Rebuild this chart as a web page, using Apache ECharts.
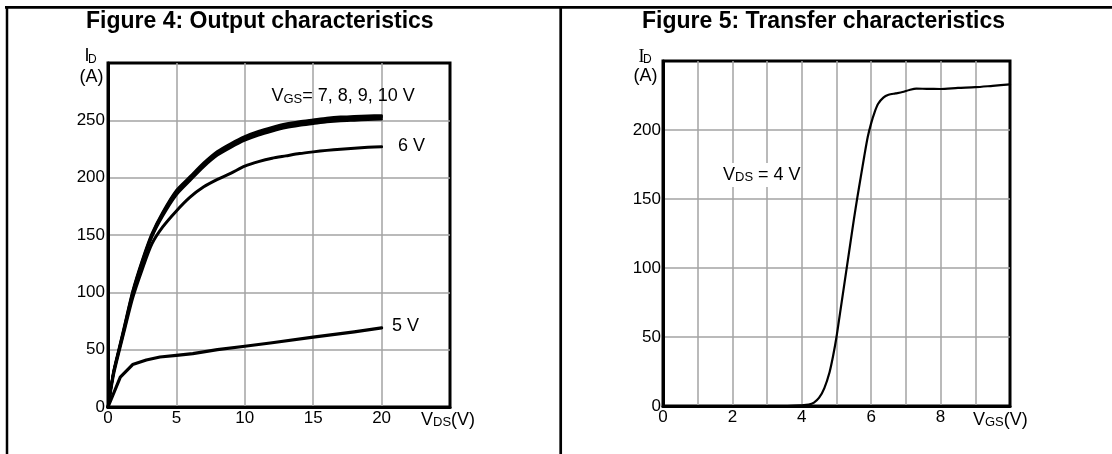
<!DOCTYPE html>
<html>
<head>
<meta charset="utf-8">
<script src="https://cdn.jsdelivr.net/npm/echarts@6/dist/echarts.min.js"></script>
<style>
html,body{margin:0;padding:0;background:#fff;}
#c{width:1112px;height:454px;}
</style>
</head>
<body>
<div id="c"></div>
<script>
// ---- Figure 4: Output characteristics (ID vs VDS) ----
const vdsOut = [0, 0.4, 0.8, 1.2, 1.8, 2.5, 3.2, 4, 5, 6, 7, 8, 9, 10, 11, 12, 13, 14, 15, 16, 17, 18, 19, 20];
const id10V = [0, 31, 51, 71, 101, 128, 151, 170, 189, 201, 213, 223, 230, 236, 240.5, 244, 247, 249, 250.5, 252, 253, 253.5, 254, 254.2];
const id9V  = [0, 30, 50, 70, 100, 127, 150, 169, 188, 200, 212, 222, 229, 235, 239.5, 243, 246, 248, 249.5, 251, 252, 252.5, 253, 253.3];
const id8V  = [0, 29.5, 49.5, 69, 99, 126, 149, 168, 187, 199, 211, 221, 228, 234, 238.5, 242, 245, 247, 248.5, 250, 251, 251.5, 252, 252.4];
const id7V  = [0, 29, 49, 68, 98, 125, 148, 166.5, 185, 197.5, 209.5, 219.5, 226.5, 232.5, 237, 240.5, 243.5, 245.5, 247, 248.5, 249.5, 250, 250.5, 251];
const id6V  = [0, 28, 48, 67, 95, 120, 142, 157, 171, 183, 192, 198.5, 204, 210, 214, 217, 219, 221, 222.5, 223.8, 224.8, 225.7, 226.5, 227];
const vds5V = [0, 0.9, 1.8, 2.8, 3.8, 5, 6.2, 8, 10, 12, 15, 18, 20];
const id5V  = [0, 26, 37, 41, 43.6, 45, 46.5, 50, 53, 56, 61, 65.5, 69];
const outXTicks = [0, 5, 10, 15, 20];
const outYTicks = [0, 50, 100, 150, 200, 250];

// ---- Figure 5: Transfer characteristics (ID vs VGS, VDS = 4 V) ----
const vgsT = [0, 1, 2, 3, 3.5, 4, 4.2, 4.35, 4.5, 4.65, 4.8, 4.9, 5.0, 5.1, 5.2, 5.3, 5.4, 5.5, 5.6, 5.7, 5.8, 5.9, 6.0, 6.1, 6.2, 6.35, 6.5, 6.7, 6.9, 7.1, 7.3, 7.6, 8, 8.5, 9, 9.5, 10];
const idT  = [0, 0, 0, 0, 0, 0.5, 1, 2.5, 6, 13, 24.5, 36, 50, 67, 84, 101, 118, 135, 151, 166, 181, 195, 205, 213, 219, 223.5, 225.5, 226.5, 227.5, 229, 230, 229.8, 229.7, 230.5, 231, 232, 233];
const trXTicks = [0, 2, 4, 6, 8];
const trYTicks = [0, 50, 100, 150, 200];

const FONT = "'Liberation Sans', Arial, Helvetica, sans-serif";
const pairs = (xs, ys) => xs.map((x, i) => [x, ys[i]]);

const chart = echarts.init(document.getElementById('c'), null, {renderer: 'canvas'});

function valAxis(gi, min, max, interval, ticks, margin) {
  return {
    type: 'value', gridIndex: gi, min: min, max: max, interval: interval,
    axisLine: {show: true, onZero: false, lineStyle: {color: '#000', width: 3}},
    axisTick: {show: false},
    splitLine: {show: true, showMinLine: false, showMaxLine: false, lineStyle: {color: '#a3a3a3', width: 1.5}},
    axisLabel: {
      margin: margin, fontSize: 17, color: '#000', fontFamily: FONT,
      showMinLabel: true, showMaxLabel: true,
      formatter: v => (ticks.indexOf(v) >= 0 ? String(v) : '')
    }
  };
}

function lineSeries(name, data, xi, width, smooth) {
  return {
    name: name, type: 'line', xAxisIndex: xi, yAxisIndex: xi, data: data,
    showSymbol: false, symbol: 'none', smooth: smooth,
    lineStyle: {color: '#000', width: width, join: 'round', cap: 'round'}, z: 5, silent: true
  };
}

const txt = (text, x, y, size, align, extra) => ({
  type: 'text', z: 100,
  style: Object.assign({text: text, x: x, y: y, fill: '#000', font: size + 'px ' + FONT,
    textAlign: align || 'left', textVerticalAlign: 'middle'}, extra || {})
});

const richTxt = (text, x, y, rich, extra) => ({
  type: 'text', z: 100,
  style: Object.assign({text: text, x: x, y: y, fill: '#000', textAlign: 'left', textVerticalAlign: 'middle',
    fontFamily: FONT, fontSize: 17.5, rich: rich}, extra || {})
});

const subRich = {
  n: {fontSize: 17.5, fontFamily: FONT, color: '#000'},
  s: {fontSize: 12.5, fontFamily: FONT, color: '#000', verticalAlign: 'bottom', lineHeight: 13}
};
const subRichBig = {
  n: {fontSize: 18, fontFamily: FONT, color: '#000'},
  s: {fontSize: 13, fontFamily: FONT, color: '#000', verticalAlign: 'bottom', lineHeight: 13}
};

const option = {
  animation: false,
  backgroundColor: '#fff',
  title: [
    {text: 'Figure 4: Output characteristics', left: 86, top: 10, padding: 0,
     textStyle: {fontSize: 23, fontWeight: 'bold', fontFamily: FONT, color: '#000'}},
    {text: 'Figure 5: Transfer characteristics', left: 642, top: 10, padding: 0,
     textStyle: {fontSize: 23, fontWeight: 'bold', fontFamily: FONT, color: '#000'}}
  ],
  grid: [
    {left: 108, top: 63, width: 342, height: 344, show: true, borderColor: '#000', borderWidth: 3, backgroundColor: 'transparent'},
    {left: 663, top: 61, width: 347, height: 345, show: true, borderColor: '#000', borderWidth: 3, backgroundColor: 'transparent'}
  ],
  xAxis: [
    valAxis(0, 0, 25, 5, outXTicks, 3),
    valAxis(1, 0, 10, 1, trXTicks, 3)
  ],
  yAxis: [
    valAxis(0, 0, 300, 50, outYTicks, 3),
    valAxis(1, 0, 250, 50, trYTicks, 2)
  ],
  series: [
    lineSeries('VGS = 10 V', pairs(vdsOut, id10V), 0, 2.6, 0.25),
    lineSeries('VGS = 9 V', pairs(vdsOut, id9V), 0, 2.6, 0.25),
    lineSeries('VGS = 8 V', pairs(vdsOut, id8V), 0, 2.6, 0.25),
    lineSeries('VGS = 7 V', pairs(vdsOut, id7V), 0, 2.6, 0.25),
    lineSeries('VGS = 6 V', pairs(vdsOut, id6V), 0, 3, 0.25),
    lineSeries('VGS = 5 V', pairs(vds5V, id5V), 0, 3.2, false),
    lineSeries('VDS = 4 V', pairs(vgsT, idT), 1, 2.2, 0.25)
  ],
  graphic: [
    // panel frame
    {type: 'line', z: 100, shape: {x1: 5, y1: 7.3, x2: 1112, y2: 7.3}, style: {stroke: '#000', lineWidth: 2.7}},
    {type: 'line', z: 100, shape: {x1: 7, y1: 6, x2: 7, y2: 454}, style: {stroke: '#000', lineWidth: 2.5}},
    {type: 'line', z: 100, shape: {x1: 560.7, y1: 6, x2: 560.7, y2: 454}, style: {stroke: '#000', lineWidth: 2.7}},
    // left axis names
    txt('I', 84.5, 56.5, 18),
    txt('D', 88, 59.5, 12),
    txt('(A)', 103.5, 77, 18, 'right'),
    richTxt('{n|V}{s|DS}{n|(V)}', 421, 420, subRichBig),
    // left curve labels
    richTxt('{n|V}{s|GS}{n|= 7, 8, 9, 10 V}', 271.5, 96.5, subRichBig),
    txt('6 V', 398, 146.5, 18),
    txt('5 V', 392, 326, 18),
    // right axis names
    {type: 'text', z: 100, style: {text: 'I', x: 638.5, y: 57, fill: '#000', font: '18px "Liberation Serif", serif', textVerticalAlign: 'middle'}},
    txt('D', 643, 59.5, 12),
    txt('(A)', 657.5, 76.5, 18, 'right'),
    richTxt('{n|V}{s|GS}{n|(V)}', 973, 420, subRichBig),
    // right curve label with white box
    richTxt('{n|V}{s|DS}{n| = 4 V}', 723, 175, subRichBig, {backgroundColor: '#fff', padding: [3, 0, 3, 0]})
  ]
};

chart.setOption(option);
</script>
</body>
</html>
